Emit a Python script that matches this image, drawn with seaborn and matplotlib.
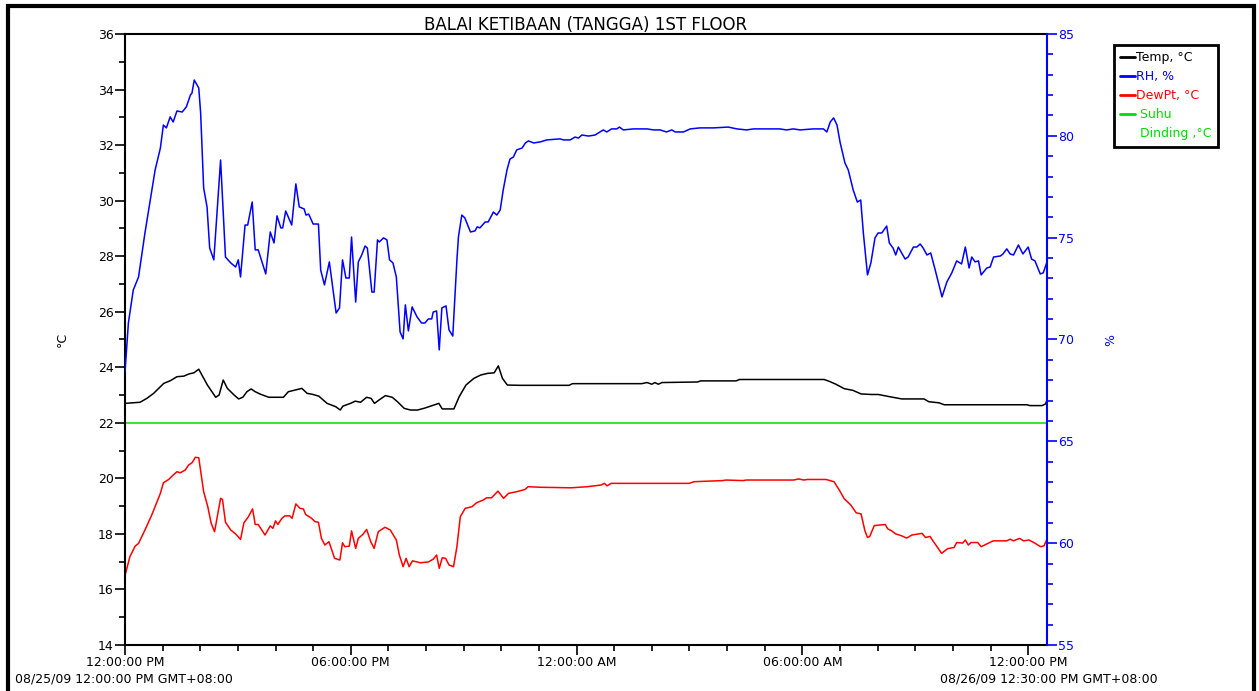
import matplotlib
matplotlib.use('Agg')
import matplotlib.pyplot as plt
import matplotlib.dates as mdates
from matplotlib.lines import Line2D
from matplotlib.patches import Rectangle
from matplotlib.ticker import MultipleLocator
import seaborn as sns
import pandas as pd

# data (hours after 08/25/09 12:00 PM)
temp_hours = [0, 0.40, 0.58, 0.76, 1.03, 1.21, 1.38, 1.56, 1.70, 1.83, 1.96, 2.19, 2.41, 2.50, 2.61, 2.72,
              2.90, 3.02, 3.13, 3.24, 3.35, 3.46, 3.60, 3.82, 4.21, 4.34, 4.52, 4.70, 4.84, 4.97, 5.15, 5.37,
              5.60, 5.72, 5.79, 5.99, 6.12, 6.26, 6.42, 6.54, 6.63, 6.75, 6.92, 7.10, 7.24, 7.42, 7.59, 7.77,
              7.94, 8.12, 8.34, 8.43, 8.74, 8.88, 9.06, 9.27, 9.45, 9.63, 9.81, 9.92, 10.03, 10.16, 10.50,
              11.80, 11.89, 13.73, 13.87, 14.00, 14.08, 14.17, 14.27, 15.21, 15.30, 16.24, 16.33, 18.58,
              18.72, 18.89, 19.11, 19.34, 19.56, 19.84, 20.02, 20.28, 20.64, 21.23, 21.36, 21.63, 21.77,
              23.96, 24.05, 24.37, 24.46, 24.50]
temp = [22.70, 22.74, 22.88, 23.06, 23.42, 23.52, 23.66, 23.68, 23.76, 23.80, 23.93, 23.36, 22.92, 23.00,
        23.54, 23.24, 23.00, 22.86, 22.92, 23.12, 23.22, 23.12, 23.03, 22.92, 22.92, 23.12, 23.18, 23.24,
        23.06, 23.03, 22.96, 22.70, 22.58, 22.46, 22.60, 22.70, 22.78, 22.74, 22.92, 22.88, 22.70, 22.82,
        22.98, 22.92, 22.76, 22.52, 22.46, 22.46, 22.52, 22.60, 22.70, 22.50, 22.50, 22.94, 23.36, 23.60,
        23.72, 23.78, 23.80, 24.05, 23.60, 23.36, 23.35, 23.35, 23.41, 23.41, 23.45, 23.39, 23.45, 23.39,
        23.45, 23.47, 23.51, 23.51, 23.56, 23.56, 23.49, 23.39, 23.23, 23.17, 23.04, 23.02, 23.02, 22.95,
        22.86, 22.86, 22.76, 22.72, 22.65, 22.65, 22.62, 22.62, 22.68, 22.82]

rh_hours = [0, 0.09, 0.22, 0.36, 0.53, 0.67, 0.80, 0.94, 1.02, 1.10, 1.20, 1.28, 1.38, 1.52, 1.63, 1.74,
            1.78, 1.84, 1.96, 2.01, 2.09, 2.18, 2.25, 2.36, 2.54, 2.67, 2.81, 2.94, 3.01, 3.07, 3.19, 3.26,
            3.38, 3.46, 3.54, 3.74, 3.86, 3.96, 4.04, 4.14, 4.19, 4.27, 4.43, 4.54, 4.63, 4.76, 4.81, 4.88,
            5.00, 5.14, 5.20, 5.30, 5.43, 5.61, 5.70, 5.78, 5.87, 5.96, 6.02, 6.13, 6.20, 6.29, 6.38, 6.44,
            6.56, 6.62, 6.71, 6.76, 6.87, 6.96, 7.03, 7.12, 7.21, 7.31, 7.39, 7.45, 7.53, 7.63, 7.76, 7.88,
            7.97, 8.06, 8.15, 8.19, 8.28, 8.35, 8.42, 8.53, 8.61, 8.71, 8.82, 8.86, 8.95, 9.03, 9.18, 9.30,
            9.36, 9.43, 9.57, 9.65, 9.79, 9.88, 9.97, 10.05, 10.15, 10.23, 10.32, 10.41, 10.55, 10.64,
            10.72, 10.86, 11.03, 11.21, 11.56, 11.65, 11.83, 11.96, 12.05, 12.14, 12.32, 12.49, 12.71,
            12.80, 12.93, 13.07, 13.14, 13.24, 13.51, 13.87, 14.05, 14.22, 14.39, 14.53, 14.62, 14.84,
            15.02, 15.28, 15.64, 16.03, 16.26, 16.52, 16.70, 17.40, 17.58, 17.76, 17.94, 18.29, 18.56,
            18.65, 18.74, 18.83, 18.92, 19.00, 19.13, 19.22, 19.35, 19.46, 19.55, 19.62, 19.73, 19.82,
            19.93, 20.01, 20.11, 20.24, 20.31, 20.41, 20.48, 20.55, 20.73, 20.81, 20.95, 21.04, 21.13,
            21.21, 21.31, 21.41, 21.53, 21.71, 21.84, 21.97, 22.10, 22.23, 22.33, 22.43, 22.50, 22.59,
            22.68, 22.75, 22.90, 22.99, 23.08, 23.26, 23.33, 23.43, 23.52, 23.61, 23.74, 23.86, 24.00,
            24.09, 24.18, 24.32, 24.40, 24.50]
rh = [68.40, 70.81, 72.43, 73.07, 75.23, 76.85, 78.32, 79.40, 80.53, 80.39, 80.93, 80.68, 81.22, 81.17,
      81.42, 82.01, 82.10, 82.74, 82.35, 81.12, 77.44, 76.51, 74.49, 73.91, 78.81, 74.05, 73.76, 73.56,
      73.91, 73.07, 75.62, 75.62, 76.75, 74.40, 74.40, 73.22, 75.28, 74.74, 76.07, 75.48, 75.48, 76.31,
      75.62, 77.64, 76.51, 76.41, 76.11, 76.16, 75.67, 75.67, 73.41, 72.68, 73.81, 71.30, 71.55, 73.91,
      73.02, 73.02, 75.03, 71.84, 73.81, 74.15, 74.59, 74.49, 72.33, 72.33, 74.89, 74.79, 74.99, 74.89,
      73.91, 73.76, 73.07, 70.37, 70.03, 71.70, 70.42, 71.60, 71.11, 70.81, 70.81, 71.01, 71.01, 71.35,
      71.40, 69.49, 71.55, 71.65, 70.47, 70.17, 73.91, 75.03, 76.11, 75.97, 75.28, 75.33, 75.53, 75.48,
      75.77, 75.77, 76.26, 76.11, 76.36, 77.34, 78.32, 78.86, 78.96, 79.31, 79.40, 79.65, 79.75, 79.65,
      79.70, 79.80, 79.85, 79.80, 79.80, 79.94, 79.89, 80.04, 79.99, 80.04, 80.29, 80.19, 80.34, 80.34,
      80.43, 80.29, 80.34, 80.34, 80.29, 80.29, 80.19, 80.29, 80.19, 80.19, 80.34, 80.39, 80.39, 80.43,
      80.34, 80.29, 80.34, 80.34, 80.29, 80.34, 80.29, 80.34, 80.34, 80.19, 80.68, 80.88, 80.53, 79.70,
      78.67, 78.32, 77.34, 76.75, 76.85, 75.23, 73.17, 73.76, 74.99, 75.23, 75.23, 75.57, 74.74, 74.49,
      74.15, 74.54, 73.95, 74.05, 74.54, 74.54, 74.69, 74.49, 74.15, 74.25, 73.41, 72.09, 72.83, 73.27,
      73.86, 73.71, 74.54, 73.51, 74.05, 73.81, 73.86, 73.17, 73.51, 73.56, 74.05, 74.10, 74.20, 74.45,
      74.20, 74.15, 74.64, 74.20, 74.54, 73.95, 73.86, 73.22, 73.27, 73.81]

dew_hours = [0, 0.13, 0.27, 0.36, 0.53, 0.71, 0.94, 1.02, 1.16, 1.25, 1.38, 1.47, 1.60, 1.69, 1.78, 1.87,
             1.96, 2.09, 2.20, 2.29, 2.38, 2.54, 2.59, 2.67, 2.81, 2.94, 3.07, 3.16, 3.28, 3.39, 3.46, 3.54,
             3.72, 3.86, 3.93, 4.00, 4.06, 4.17, 4.25, 4.38, 4.44, 4.54, 4.65, 4.74, 4.80, 4.96, 5.05, 5.14,
             5.22, 5.31, 5.42, 5.57, 5.71, 5.78, 5.84, 5.96, 6.02, 6.13, 6.20, 6.32, 6.42, 6.53, 6.62, 6.73,
             6.91, 7.05, 7.21, 7.29, 7.39, 7.47, 7.55, 7.64, 7.85, 8.06, 8.19, 8.28, 8.35, 8.43, 8.52, 8.61,
             8.73, 8.82, 8.91, 9.04, 9.22, 9.34, 9.52, 9.61, 9.74, 9.91, 10.06, 10.19, 10.41, 10.63, 10.71,
             11.03, 11.85, 12.29, 12.65, 12.74, 12.81, 12.92, 14.99, 15.12, 15.88, 15.97, 16.42, 16.51,
             17.77, 17.90, 18.04, 18.13, 18.63, 18.84, 18.98, 19.11, 19.28, 19.43, 19.56, 19.66, 19.73,
             19.79, 19.91, 20.20, 20.27, 20.36, 20.48, 20.64, 20.77, 20.91, 21.18, 21.27, 21.39, 21.50,
             21.70, 21.86, 22.03, 22.10, 22.26, 22.33, 22.41, 22.48, 22.66, 22.75, 22.89, 23.07, 23.43,
             23.52, 23.61, 23.77, 23.88, 24.02, 24.15, 24.33, 24.42, 24.50]
dewpt = [16.50, 17.18, 17.56, 17.66, 18.14, 18.68, 19.46, 19.84, 19.96, 20.08, 20.24, 20.20, 20.30, 20.48,
         20.56, 20.76, 20.74, 19.52, 18.98, 18.38, 18.08, 19.28, 19.24, 18.42, 18.14, 18.00, 17.80, 18.40,
         18.62, 18.90, 18.34, 18.34, 17.96, 18.29, 18.20, 18.47, 18.34, 18.56, 18.65, 18.65, 18.56, 19.08,
         18.92, 18.90, 18.70, 18.56, 18.44, 18.42, 17.84, 17.60, 17.72, 17.12, 17.06, 17.68, 17.54, 17.56,
         18.11, 17.48, 17.84, 17.98, 18.16, 17.72, 17.48, 18.08, 18.24, 18.14, 17.78, 17.24, 16.82, 17.12,
         16.82, 17.03, 16.96, 16.99, 17.09, 17.24, 16.76, 17.14, 17.12, 16.88, 16.82, 17.54, 18.62, 18.92,
         18.98, 19.12, 19.22, 19.30, 19.30, 19.54, 19.28, 19.46, 19.52, 19.60, 19.70, 19.68, 19.66, 19.70,
         19.76, 19.82, 19.73, 19.82, 19.82, 19.88, 19.92, 19.94, 19.92, 19.94, 19.94, 19.98, 19.94, 19.96,
         19.96, 19.88, 19.58, 19.27, 19.05, 18.76, 18.72, 18.12, 17.87, 17.91, 18.30, 18.34, 18.18, 18.12,
         18.00, 17.93, 17.85, 17.96, 18.02, 17.87, 17.91, 17.69, 17.30, 17.47, 17.51, 17.69, 17.67, 17.78,
         17.60, 17.69, 17.69, 17.54, 17.63, 17.75, 17.75, 17.81, 17.75, 17.84, 17.75, 17.78, 17.69, 17.54,
         17.57, 17.81]

wall_hours = [0, 24.5]
wall_temp = [22.0, 22.0]

labels = ['Temp, °C', 'RH, %', 'DewPt, °C', ' Suhu', ' Dinding ,°C']
colors = ['black', '#0000ff', '#ff0000', '#00dd00', '#00dd00']

start = pd.Timestamp('2009-08-25 12:00:00')
end = pd.Timestamp('2009-08-26 12:30:00')


def to_time(hours):
    return start + pd.to_timedelta(hours, unit='h')


sns.set_style('ticks')
plt.rcParams['font.family'] = ['DejaVu Sans']
plt.rcParams['font.size'] = 9
plt.rcParams['text.color'] = 'black'
plt.rcParams['axes.labelcolor'] = 'black'
plt.rcParams['xtick.color'] = 'black'
plt.rcParams['ytick.color'] = 'black'

fig = plt.figure(figsize=(12.59, 6.91), dpi=100)
ax = fig.add_axes([125 / 1259, 1 - 645 / 691, 922 / 1259, 611 / 691])
ax2 = ax.twinx()

sns.lineplot(x=to_time(temp_hours), y=temp, ax=ax, color='black', lw=1.1)
sns.lineplot(x=to_time(dew_hours), y=dewpt, ax=ax, color='#ff0000', lw=1.1)
sns.lineplot(x=to_time(wall_hours), y=wall_temp, ax=ax, color='#00dd00', lw=1.1)
sns.lineplot(x=to_time(rh_hours), y=rh, ax=ax2, color='#0000ff', lw=1.1)

ax.set_xlim(start, end)
ax.set_ylim(14, 36)
ax2.set_ylim(55, 85)

ax.xaxis.set_major_locator(mdates.HourLocator(byhour=[0, 6, 12, 18]))
ax.xaxis.set_minor_locator(mdates.HourLocator())
ax.xaxis.set_major_formatter(mdates.DateFormatter('%I:%M:%S %p'))
ax.yaxis.set_major_locator(MultipleLocator(2))
ax.yaxis.set_minor_locator(MultipleLocator(1))
ax2.yaxis.set_major_locator(MultipleLocator(5))
ax2.yaxis.set_minor_locator(MultipleLocator(1))

ax.tick_params(which='major', length=7, width=1.2, pad=1, labelsize=9, colors='black')
ax.tick_params(which='minor', length=4, width=1.2, colors='black')
ax2.tick_params(which='major', length=7, width=1.2, pad=1, labelsize=9, colors='#0000ff')
ax2.tick_params(which='minor', length=4, width=1.2, colors='#0000ff')

for s in ['left', 'bottom', 'top']:
    ax.spines[s].set_linewidth(1.5)
    ax.spines[s].set_color('black')
    ax2.spines[s].set_visible(False)
ax.spines['right'].set_visible(False)
ax2.spines['right'].set_color('#0000ff')
ax2.spines['right'].set_linewidth(1.5)

ax.set_xlabel('')
ax.set_ylabel('°C', fontsize=9)
ax.yaxis.set_label_coords(-0.061, 0.5)
ax2.set_ylabel('%', fontsize=9, color='#0000ff', rotation=90)
ax2.yaxis.set_label_coords(1.062, 0.5)

ax.set_title('BALAI KETIBAAN (TANGGA) 1ST FLOOR', fontsize=12, pad=2, color='black')

fig.text(15 / 1259, 1 - 679 / 691, '08/25/09 12:00:00 PM GMT+08:00', ha='left', va='center', fontsize=9)
fig.text(1158 / 1259, 1 - 679 / 691, '08/26/09 12:30:00 PM GMT+08:00', ha='right', va='center', fontsize=9)

handles = [Line2D([], [], color=c, lw=2) for c in colors[:4]] + [Line2D([], [], color='none')]
leg = fig.legend(handles, labels, loc='upper left', bbox_to_anchor=(1114 / 1259, 1 - 45 / 691),
                 frameon=True, fancybox=False, framealpha=1, edgecolor='black', fontsize=9,
                 handlelength=1.2, handletextpad=0.1, labelspacing=0.48, borderpad=0.5, borderaxespad=0)
leg.get_frame().set_linewidth(2)
for t, c in zip(leg.get_texts(), colors):
    t.set_color(c)

fig.patches.append(Rectangle((8 / 1259, -0.01), 1246 / 1259, 1.0013, transform=fig.transFigure,
                             fill=False, edgecolor='black', lw=3))

fig.savefig('out.png', dpi=100)
